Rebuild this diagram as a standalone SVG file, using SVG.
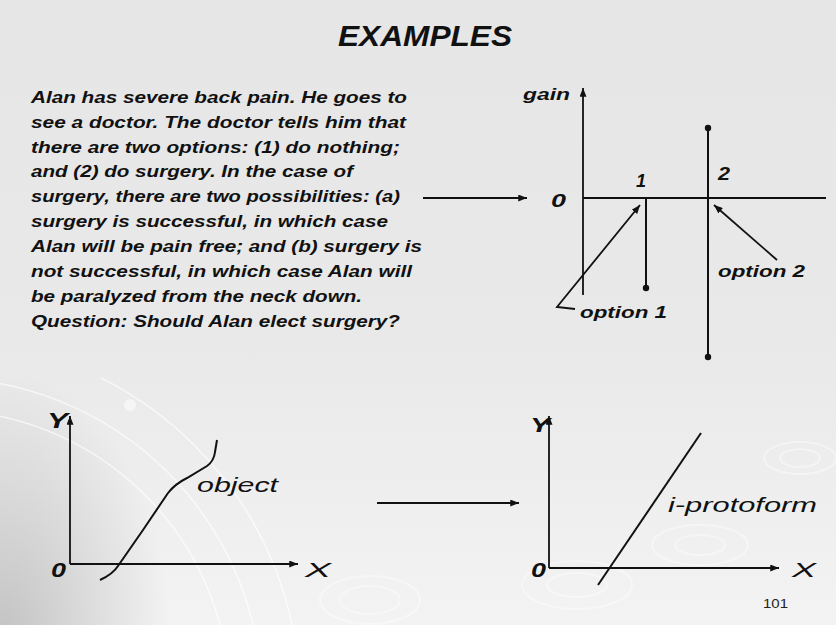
<svg xmlns="http://www.w3.org/2000/svg" width="836" height="625" viewBox="0 0 836 625">
<defs>
<linearGradient id="bg" x1="0" y1="0" x2="0" y2="1">
<stop offset="0" stop-color="#e6e6e6"/>
<stop offset="0.55" stop-color="#e9e9e9"/>
<stop offset="1" stop-color="#f3f3f3"/>
</linearGradient>
<radialGradient id="shade" cx="0.5" cy="0.5" r="0.5">
<stop offset="0" stop-color="#9a9a9a" stop-opacity="0.55"/>
<stop offset="1" stop-color="#9a9a9a" stop-opacity="0"/>
</radialGradient>
<clipPath id="lower"><rect x="0" y="378" width="836" height="247"/></clipPath>
<marker id="ah" viewBox="0 0 10 8" refX="10" refY="4" markerWidth="9" markerHeight="7" markerUnits="userSpaceOnUse" orient="auto">
<path d="M0,0 L10,4 L0,8 z" fill="#111"/>
</marker>
<style>
.t{font-family:"Liberation Sans",Arial,sans-serif;font-style:italic;font-weight:bold;fill:#111}
.r{font-family:"Liberation Sans",Arial,sans-serif;font-style:italic;font-weight:normal;fill:#111}
.ln{stroke:#111;stroke-width:2;fill:none}
.ar{stroke:#111;stroke-width:1.8;fill:none;marker-end:url(#ah)}
.deco{fill:none;stroke:#ffffff;stroke-opacity:0.65;stroke-width:1.5}
.rip{fill:none;stroke:#ffffff;stroke-opacity:0.4;stroke-width:2}
</style>
</defs>

<g id="background">
<rect width="836" height="625" fill="url(#bg)"/>
<ellipse cx="0" cy="640" rx="170" ry="270" fill="url(#shade)"/>
<g clip-path="url(#lower)">
<circle cx="-60" cy="700" r="290" class="deco"/>
<circle cx="-60" cy="700" r="322" class="deco"/>
<circle cx="-60" cy="700" r="360" class="deco"/>
</g>
<circle cx="130" cy="405" r="6" fill="#ffffff" fill-opacity="0.5"/>
<ellipse cx="577" cy="585" rx="30" ry="12" class="rip"/>
<ellipse cx="577" cy="585" rx="55" ry="24" class="rip"/>
<ellipse cx="700" cy="545" rx="25" ry="10" class="rip"/>
<ellipse cx="700" cy="545" rx="48" ry="20" class="rip"/>
<ellipse cx="800" cy="458" rx="20" ry="9" class="rip"/>
<ellipse cx="800" cy="458" rx="36" ry="16" class="rip"/>
<ellipse cx="370" cy="600" rx="30" ry="14" class="rip"/>
<ellipse cx="370" cy="600" rx="50" ry="24" class="rip"/>
</g>

<g id="title">
<text class="t" x="338" y="46" font-size="29" textLength="174" lengthAdjust="spacingAndGlyphs">EXAMPLES</text>
</g>

<g id="paragraph" font-size="16.5">
<text class="t" x="31" y="103" textLength="376" lengthAdjust="spacingAndGlyphs">Alan has severe back pain. He goes to</text>
<text class="t" x="31" y="128" textLength="375" lengthAdjust="spacingAndGlyphs">see a doctor. The doctor tells him that</text>
<text class="t" x="31" y="153" textLength="369" lengthAdjust="spacingAndGlyphs">there are two options: (1) do nothing;</text>
<text class="t" x="31" y="177" textLength="322" lengthAdjust="spacingAndGlyphs">and (2) do surgery. In the case of</text>
<text class="t" x="31" y="202" textLength="369" lengthAdjust="spacingAndGlyphs">surgery, there are two possibilities: (a)</text>
<text class="t" x="31" y="227" textLength="357" lengthAdjust="spacingAndGlyphs">surgery is successful, in which case</text>
<text class="t" x="31" y="252" textLength="391" lengthAdjust="spacingAndGlyphs">Alan will be pain free; and (b) surgery is</text>
<text class="t" x="31" y="277" textLength="381" lengthAdjust="spacingAndGlyphs">not successful, in which case Alan will</text>
<text class="t" x="31" y="302" textLength="331" lengthAdjust="spacingAndGlyphs">be paralyzed from the neck down.</text>
<text class="t" x="31" y="327" textLength="369" lengthAdjust="spacingAndGlyphs">Question: Should Alan elect surgery?</text>
</g>

<g id="gain-diagram">
<line class="ar" x1="583" y1="295" x2="583" y2="88"/>
<line class="ln" x1="583" y1="198" x2="826" y2="198"/>
<text class="t" x="523" y="100" font-size="17" textLength="47" lengthAdjust="spacingAndGlyphs">gain</text>
<text class="t" x="551" y="207" font-size="19" textLength="15" lengthAdjust="spacingAndGlyphs">0</text>
</g>

<g id="option-1">
<line class="ln" x1="646" y1="198" x2="646" y2="288"/>
<circle cx="646" cy="288" r="3.2" fill="#111"/>
<text class="t" x="636" y="187" font-size="18">1</text>
<text class="t" x="580" y="318" font-size="17" textLength="87" lengthAdjust="spacingAndGlyphs">option 1</text>
</g>

<g id="option-2">
<line class="ln" x1="708" y1="128" x2="708" y2="357"/>
<circle cx="708" cy="128" r="3.2" fill="#111"/>
<circle cx="708" cy="357" r="3.2" fill="#111"/>
<text class="t" x="718" y="180" font-size="18" textLength="12" lengthAdjust="spacingAndGlyphs">2</text>
<text class="t" x="718" y="277" font-size="17" textLength="87" lengthAdjust="spacingAndGlyphs">option 2</text>
</g>

<g id="object-plot">
<line class="ar" x1="70" y1="564" x2="70" y2="416"/>
<line class="ar" x1="70" y1="564" x2="298" y2="564"/>
<text class="t" x="47" y="428" font-size="22" textLength="21" lengthAdjust="spacingAndGlyphs">Y</text>
<text class="t" x="51" y="577" font-size="20" textLength="15" lengthAdjust="spacingAndGlyphs">0</text>
<text class="r" x="305" y="577" font-size="21" textLength="26" lengthAdjust="spacingAndGlyphs">X</text>
<path class="ln" d="M100,580 Q113,574 118,566 L143,530 L168,493 Q175,484 187,478 L207,466 Q214,461 215,452 L217,440" stroke-width="1.8"/>
<text class="r" x="197" y="492" font-size="21" textLength="81" lengthAdjust="spacingAndGlyphs">object</text>
</g>

<g id="protoform-plot">
<line class="ar" x1="549" y1="568" x2="549" y2="416"/>
<line class="ar" x1="549" y1="568" x2="779" y2="568"/>
<text class="t" x="530" y="432" font-size="21" textLength="20" lengthAdjust="spacingAndGlyphs">Y</text>
<text class="t" x="531" y="577" font-size="20" textLength="15" lengthAdjust="spacingAndGlyphs">0</text>
<text class="r" x="792" y="577" font-size="21" textLength="24" lengthAdjust="spacingAndGlyphs">X</text>
<line class="ln" x1="598" y1="585" x2="701" y2="433" stroke-width="1.8"/>
<text class="r" x="668" y="512" font-size="20" textLength="149" lengthAdjust="spacingAndGlyphs">i-protoform</text>
</g>

<g id="page-number">
<text x="763" y="608" font-family="Liberation Sans, Arial, sans-serif" font-size="13" fill="#222" textLength="25" lengthAdjust="spacingAndGlyphs">101</text>
</g>

<g id="connectors">
<line class="ar" x1="423" y1="198" x2="527" y2="198"/>
<polyline class="ar" points="575,309 557,307 640,205"/>
<line class="ar" x1="777" y1="260" x2="714" y2="205"/>
<line class="ar" x1="377" y1="503" x2="519" y2="503"/>
</g>
</svg>
